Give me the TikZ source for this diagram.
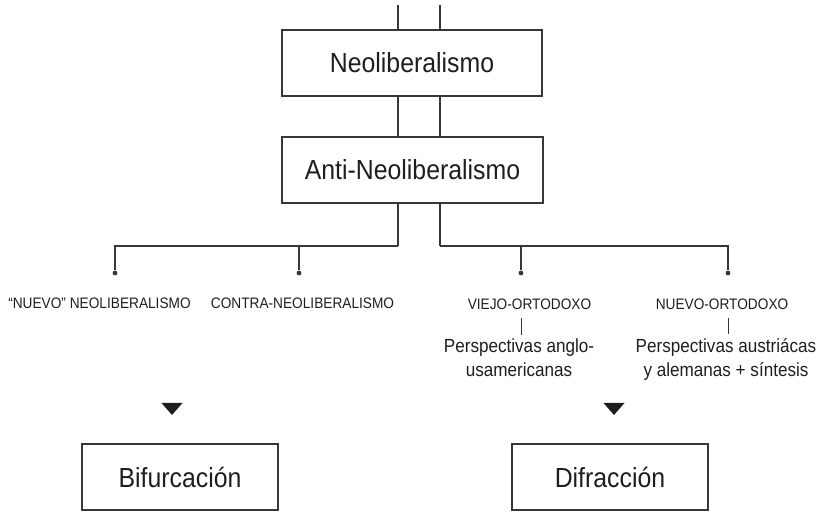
\documentclass[tikz,border=0pt]{standalone}
\usepackage{fontspec}
\setmainfont{Liberation Sans}[FakeStretch=0.9]
\usetikzlibrary{positioning}
\definecolor{ink}{RGB}{30,30,30}
\definecolor{rule}{RGB}{55,55,55}

\begin{document}
\begin{tikzpicture}[
  x={(0.5pt,0pt)}, y={(0pt,-0.5pt)},
  box/.style={draw=rule, line width=0.55pt, minimum width=#1, minimum height=33pt,
    inner sep=0pt, font=\fontsize{13.8}{16}\selectfont, text=ink},
  ln/.style={draw=rule, line width=0.55pt},
  dot/.style={circle, fill=rule, inner sep=0pt, minimum size=2.4pt},
  caplab/.style={font=\fontsize{7.6}{9}\selectfont, text=ink, inner sep=0pt},
  sub/.style={font=\fontsize{9.5}{12}\selectfont, text=ink, align=center, inner sep=0pt}]

\useasboundingbox (0,0) rectangle (818,512);

% the four boxes
\node[box=130pt]   (Neo)  at (412,63)    {Neoliberalismo};
\node[box=130.5pt] (Anti) at (412.5,170) {Anti-Neoliberalismo};
\node[box=98pt]    (Bif)  at (180,477)   {Bifurcación};
\node[box=98pt]    (Dif)  at (610,477)   {Difracción};

% the two strands through the boxes
\coordinate (inL) at (398,5);
\coordinate (inR) at (440,5);
\coordinate (bar) at (0,246);
\foreach \c in {inL,inR}{
  \draw[ln] (\c) -- (\c |- Neo.north);
  \draw[ln] (Neo.south -| \c) -- (Anti.north -| \c);
  \draw[ln] (Anti.south -| \c) -- (\c |- bar);
}

% branch points
\foreach \n/\x in {d1/115,d2/299,d3/521,d4/728}
  \node[dot] (\n) at (\x,273) {};

\draw[ln] (inL |- bar) -| (d1);
\draw[ln] (d2 |- bar) -- (d2);
\draw[ln] (inR |- bar) -| (d4);
\draw[ln] (d3 |- bar) -- (d3);

% labels
\node[caplab] (NN) at (99.5,303)  {“NUEVO” NEOLIBERALISMO};
\node[caplab] (CN) at (302.5,303) {CONTRA-NEOLIBERALISMO};
\node[caplab] (VO) at (529.5,304) {VIEJO-ORTODOXO};
\node[caplab] (NO) at (722,304)   {NUEVO-ORTODOXO};
\node[sub] (PA) at (519,358)   {Perspectivas anglo-\\usamericanas};
\node[sub] (PS) at (726,359)   {Perspectivas austriácas\\y alemanas + síntesis};

\draw[ln, line width=0.45pt, shorten <=4.2pt, shorten >=2pt] (VO.south -| d3) -- (PA.north -| d3);
\draw[ln, line width=0.45pt, shorten <=4.2pt, shorten >=2pt] (NO.south -| d4) -- (PS.north -| d4);

% markers above the outcomes
\foreach \n/\x in {t1/172,t2/614}{
  \coordinate (\n) at (\x,403);
  \fill[ink] (\n) ++(-10.5,0) -- ++(21,0) -- ++(-10.5,12) -- cycle;
}

\end{tikzpicture}
\end{document}
